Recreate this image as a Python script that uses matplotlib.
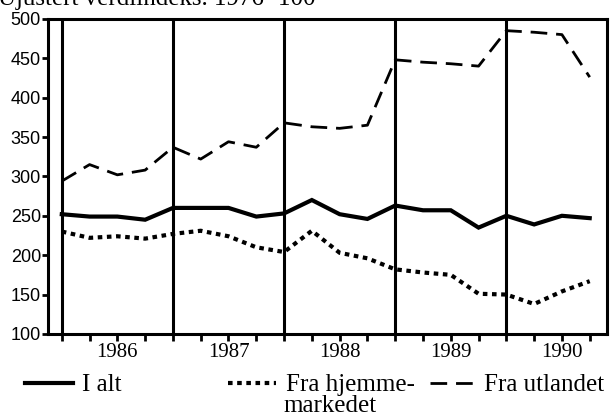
import numpy as np
import matplotlib
matplotlib.use('Agg')
import matplotlib.pyplot as plt
from matplotlib.lines import Line2D

# quarterly index values, 1986 Q1 .. 1990 Q4
years = ['1986', '1987', '1988', '1989', '1990']
i_alt = [252, 249, 249, 245, 260, 260, 260, 249, 253, 270,
         252, 246, 263, 257, 257, 235, 250, 239, 250, 247]
hjemme = [230, 222, 224, 221, 227, 231, 224, 210, 204, 231,
          203, 196, 182, 178, 175, 151, 150, 138, 154, 167]
utland = [294, 315, 302, 308, 337, 322, 344, 337, 368, 363,
          361, 365, 448, 445, 443, 440, 485, 483, 480, 426]
y_ticks = [100, 150, 200, 250, 300, 350, 400, 450, 500]

SERIF = 'Liberation Serif'
SANS = 'Liberation Sans'

fig = plt.figure(figsize=(6.14, 4.19), dpi=100)
ax = fig.add_axes([0.078, 0.203, 0.9105, 0.752])

x = np.arange(len(i_alt))
ax.plot(x, i_alt, color='black', lw=3.0, solid_joinstyle='miter')
ax.plot(x, hjemme, color='black', lw=3.0, linestyle=(0, (1.1, 1.1)))
ax.plot(x, utland, color='black', lw=2.0, linestyle=(0, (6, 3.2)))

# year separators
for q in range(0, len(x), 4):
    ax.axvline(q, color='black', lw=2.2, zorder=1)

ax.set_xlim(-0.5, 19.62)
ax.set_ylim(100, 500)
# one tick per quarter, year label under the third quarter tick
ax.set_xticks(x)
xlabels = ['' for _ in x]
for k, yr in enumerate(years):
    xlabels[4 * k + 2] = yr
ax.set_xticklabels(xlabels, fontfamily=SERIF, fontsize=15)
ax.tick_params(axis='x', direction='out', length=5, width=2, pad=1.5)
ax.set_yticks(y_ticks)
ax.set_yticklabels([str(v) for v in y_ticks], fontfamily=SANS, fontsize=13)
ax.tick_params(axis='y', direction='out', length=4, width=2, pad=1)
for s in ax.spines.values():
    s.set_linewidth(2.2)

fig.text(-2 / 614, 1 - 5 / 419, 'Ujustert verdiindeks. 1976=100', fontfamily=SERIF,
         fontsize=18, va='baseline', ha='left')

# legend, three separate entries in one row
entries = [
    (Line2D([], [], color='black', lw=3.0), 'I alt', 25, 1.9),
    (Line2D([], [], color='black', lw=3.0, linestyle=(0, (1.1, 1.1))), 'Fra hjemme-', 228, 1.9),
    (Line2D([], [], color='black', lw=2.0, linestyle=(0, (6, 3.2))), 'Fra utlandet', 430, 1.75),
]
leg_y = 1 - 385 / 419
for handle, label, px, hl in entries:
    fig.legend(handles=[handle], labels=[label], loc='center left',
               bbox_to_anchor=(px / 614, leg_y), frameon=False,
               borderpad=0, borderaxespad=0, handlelength=hl,
               handletextpad=0.4, prop={'family': SERIF, 'size': 18})
fig.text(283 / 614, 1 - 406 / 419, 'markedet', fontfamily=SERIF, fontsize=18,
         va='center', ha='left')

fig.savefig('out.png', dpi=100)
